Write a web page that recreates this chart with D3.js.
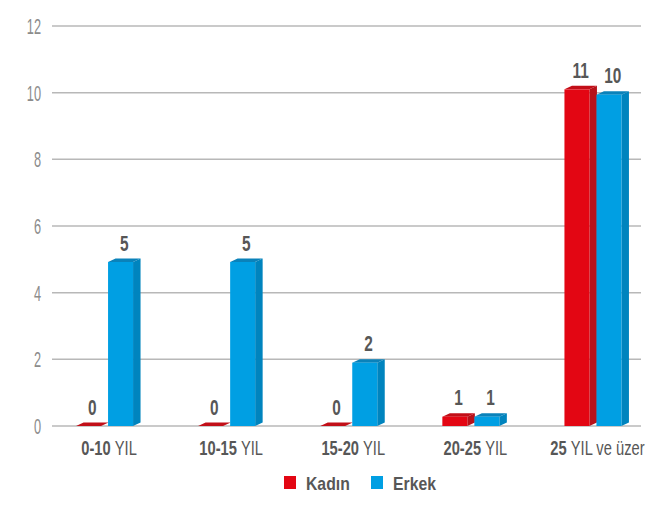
<!DOCTYPE html>
<html>
<head>
<meta charset="utf-8">
<script src="https://cdn.jsdelivr.net/npm/d3@7"></script>
<style>
  body { margin: 0; background: #fff; }
  text { font-family: "Liberation Sans", Arial, sans-serif; }
</style>
</head>
<body>
<svg id="chart"></svg>
<script>
const width = 647;
const height = 505;

// data
const categories = ["0-10", "10-15", "15-20", "20-25", "25"];
const categorySuffix = ["YIL", "YIL", "YIL", "YIL", "YIL ve üzer"];
const seriesNames = ["Kadın", "Erkek"];
// bar heights as drawn in the picture
const kadinHeights = [0, 0, 0, 0.28, 10.1];
const erkekHeights = [4.92, 4.92, 1.9, 0.28, 9.94];
// data labels printed above the bars
const kadinLabels = [0, 0, 0, 1, 11];
const erkekLabels = [5, 5, 2, 1, 10];
const yTicks = [0, 2, 4, 6, 8, 10, 12];

const colors = {
    "Kadın": {front: "#e30613", side: "#b7121a", top: "#c20f18"},
    "Erkek": {front: "#009fe3", side: "#0084be", top: "#0a82ba"}
};

const svg = d3.select("#chart")
    .attr("width", width)
    .attr("height", height);

const y = d3.scaleLinear()
    .domain([0, 12])
    .range([426, 26]);

const x = d3.scaleBand()
    .domain(categories)
    .range([40, 650.5]);

const xSub = d3.scaleBand()
    .domain(seriesNames)
    .range([-25, 39]);

const barW = 25;
const dx = 7.5;
const dy = 3.5;

// gridlines
svg.append("g")
    .selectAll("line")
    .data(yTicks)
    .join("line")
    .attr("x1", 52)
    .attr("x2", 641)
    .attr("y1", d => y(d))
    .attr("y2", d => y(d))
    .attr("stroke", "#b8b8b8")
    .attr("stroke-width", 1.5);

// y tick labels (condensed)
svg.append("g")
    .selectAll("g")
    .data(yTicks)
    .join("g")
    .attr("transform", d => `translate(41, ${y(d)})`)
    .append("text")
    .attr("transform", "scale(0.58, 1)")
    .attr("text-anchor", "end")
    .attr("dy", "0.36em")
    .attr("font-size", 22)
    .attr("fill", "#8c8c8c")
    .text(d => d);

const rows = categories.map((c, i) => [
    {cat: c, name: "Kadın", h: kadinHeights[i], label: kadinLabels[i]},
    {cat: c, name: "Erkek", h: erkekHeights[i], label: erkekLabels[i]}
]).flat();

const bars = svg.append("g")
    .selectAll("g")
    .data(rows)
    .join("g");

const bx = d => x(d.cat) + x.bandwidth() / 2 + xSub(d.name);

// side face
bars.append("polygon")
    .attr("points", d => {
        const x0 = bx(d) + barW, top = y(d.h), base = y(0);
        return [[x0, top], [x0 + dx, top - dy], [x0 + dx, base - dy], [x0, base]].join(" ");
    })
    .attr("fill", d => colors[d.name].side);

// top face
bars.append("polygon")
    .attr("points", d => {
        const x0 = bx(d), top = y(d.h);
        return [[x0, top], [x0 + dx, top - dy], [x0 + barW + dx, top - dy], [x0 + barW, top]].join(" ");
    })
    .attr("fill", d => colors[d.name].top);

// front face
bars.append("rect")
    .attr("x", d => bx(d))
    .attr("y", d => y(d.h))
    .attr("width", barW)
    .attr("height", d => y(0) - y(d.h))
    .attr("fill", d => colors[d.name].front);

// data labels
bars.append("g")
    .attr("transform", d => `translate(${bx(d) + (barW + dx) / 2}, ${y(d.h) - dy - 8})`)
    .append("text")
    .attr("transform", "scale(0.7, 1)")
    .attr("text-anchor", "middle")
    .attr("font-size", 22)
    .attr("font-weight", "bold")
    .attr("fill", "#575757")
    .text(d => d.label);

// category labels
const catLabels = svg.append("g")
    .selectAll("g")
    .data(categories)
    .join("g")
    .attr("transform", d => `translate(${x(d) + x.bandwidth() / 2 + 8}, 455)`)
    .append("text")
    .attr("transform", "scale(0.7, 1)")
    .attr("text-anchor", "middle")
    .attr("font-size", 21)
    .attr("fill", "#575757");

catLabels.append("tspan")
    .attr("font-weight", "bold")
    .text(d => d + " ");
catLabels.append("tspan")
    .text((d, i) => categorySuffix[i]);

// legend
const legendX = [284, 371];
const legend = svg.append("g")
    .selectAll("g")
    .data(seriesNames)
    .join("g")
    .attr("transform", (d, i) => `translate(${legendX[i]}, 476)`);

legend.append("rect")
    .attr("width", 12)
    .attr("height", 13)
    .attr("fill", d => colors[d].front);

legend.append("text")
    .attr("transform", "translate(22, 13.5) scale(0.83, 1)")
    .attr("font-size", 19)
    .attr("font-weight", "bold")
    .attr("fill", "#575757")
    .text(d => d);
</script>
</body>
</html>
